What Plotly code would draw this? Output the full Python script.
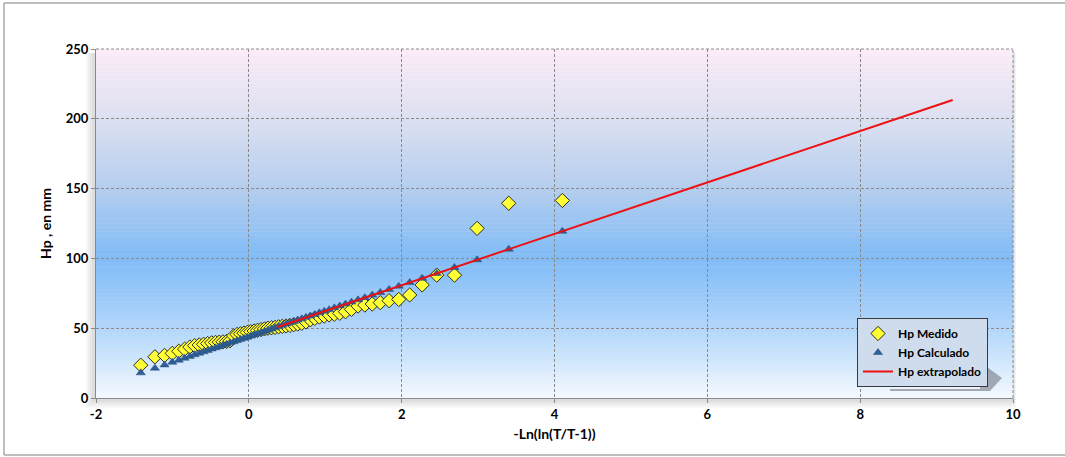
import plotly.graph_objects as go

# Reduced Gumbel variate -Ln(ln(T/T-1)) for each ranked observation
x_obs = [-1.414, -1.229, -1.103, -1.002, -0.917, -0.841, -0.772, -0.709, -0.649, -0.592,
         -0.538, -0.486, -0.436, -0.387, -0.339, -0.291, -0.245, -0.199, -0.154, -0.109,
         -0.064, -0.020, 0.025, 0.070, 0.114, 0.159, 0.205, 0.250, 0.296, 0.343,
         0.390, 0.438, 0.487, 0.537, 0.588, 0.640, 0.693, 0.748, 0.805, 0.863,
         0.923, 0.986, 1.051, 1.119, 1.190, 1.265, 1.344, 1.429, 1.518, 1.615,
         1.720, 1.835, 1.962, 2.105, 2.268, 2.459, 2.691, 2.987, 3.401, 4.103]

hp_medido = [23.5, 29.5, 30.5, 32.0, 33.5, 35.0, 36.5, 37.5, 38.0, 38.5,
             39.0, 39.5, 39.8, 40.0, 40.2, 40.5, 41.0, 44.5, 45.5, 46.0,
             46.5, 47.0, 47.5, 48.0, 48.5, 49.0, 49.5, 50.0, 50.3, 50.6,
             51.0, 51.3, 51.6, 52.0, 52.5, 53.0, 53.5, 54.5, 56.0, 57.0,
             58.0, 58.7, 59.5, 60.0, 60.7, 61.8, 63.5, 65.9, 66.6, 67.3,
             68.3, 69.7, 70.6, 73.8, 81.0, 88.0, 88.0, 121.5, 139.5, 141.5]

hp_calculado = [18.0, 21.4, 23.7, 25.6, 27.1, 28.5, 29.8, 31.0, 32.1, 33.1,
                34.1, 35.1, 36.0, 36.9, 37.8, 38.6, 39.5, 40.3, 41.2, 42.0,
                42.8, 43.6, 44.5, 45.3, 46.1, 46.9, 47.8, 48.6, 49.4, 50.3,
                51.2, 52.1, 53.0, 53.9, 54.8, 55.8, 56.8, 57.8, 58.8, 59.9,
                61.0, 62.1, 63.3, 64.6, 65.9, 67.3, 68.7, 70.3, 71.9, 73.7,
                75.6, 77.8, 80.1, 82.7, 85.7, 89.2, 93.5, 99.0, 106.6, 119.5]

x_ext = [0.3665, 1.4999, 2.2504, 3.1985, 3.9019, 4.6001, 5.2958, 6.2136, 6.9073, 9.2103]
hp_extrapolado = [50.7, 71.6, 85.4, 102.9, 115.8, 128.6, 141.4, 158.3, 171.1, 213.5]

x_ticks = [-2, 0, 2, 4, 6, 8, 10]
y_ticks = [0, 50, 100, 150, 200, 250]

FONT = "Lato"

fig = go.Figure()

fig.add_trace(go.Scatter(
    x=x_obs, y=hp_medido, mode="markers", name="Hp Medido",
    marker=dict(symbol="diamond", size=11, color="#ffff33",
                line=dict(color="#2a2a2a", width=1))))
fig.add_trace(go.Scatter(
    x=x_obs, y=hp_calculado, mode="markers", name="Hp Calculado",
    marker=dict(symbol="triangle-up", size=8, color="#2f5f98",
                line=dict(color="#244a78", width=0.5))))
fig.add_trace(go.Scatter(
    x=x_ext, y=hp_extrapolado, mode="lines", name="Hp extrapolado",
    line=dict(color="#ee1111", width=2)))

W, H = 1065, 457
L, R, T, B = 96, 52, 49, 59
pw, ph = W - L - R, H - T - B


def px_to_paper(px, py):
    return (px - L) / pw, 1 - (py - T) / ph


# gradient background of the plot area, drawn as thin horizontal bands
stops = [(0.0, (252, 236, 248)), (0.2, (220, 224, 241)), (0.4, (180, 206, 238)),
         (0.6, (128, 187, 247)), (0.8, (178, 214, 250)), (1.0, (244, 249, 255))]


def color_at(f):
    for (f0, c0), (f1, c1) in zip(stops[:-1], stops[1:]):
        if f0 <= f <= f1:
            t = (f - f0) / (f1 - f0)
            return "rgb(%d,%d,%d)" % tuple(round(a + (b - a) * t) for a, b in zip(c0, c1))
    return "rgb(%d,%d,%d)" % stops[-1][1]


shapes = []

# soft shadow around the plot area (left and bottom)
for k, a in enumerate([0.05, 0.05, 0.05, 0.06]):
    d = 10 - 2 * k
    sx0, sy0 = px_to_paper(L - d, T + 4)
    sx1, sy1 = px_to_paper(W - R + d * 0.3, H - B + d)
    shapes.append(dict(type="rect", xref="paper", yref="paper", x0=sx0, y0=sy1, x1=sx1, y1=sy0,
                       line=dict(width=0), fillcolor="rgba(90,90,90,%.2f)" % a, layer="below"))

n = 90
for i in range(n):
    top = 1 - i / n
    bot = 1 - (i + 1) / n
    shapes.append(dict(type="rect", xref="paper", yref="paper", x0=0, x1=1,
                       y0=bot - 0.001, y1=top, fillcolor=color_at((i + 0.5) / n),
                       line=dict(width=0), layer="below"))

# outer chart border (left, top, bottom)
bx0, by0 = px_to_paper(4, 3)
bx1, by1 = px_to_paper(1120, 455)
for seg in [(bx0, by1, bx0, by0), (bx0, by0, bx1, by0), (bx0, by1, bx1, by1)]:
    shapes.append(dict(type="line", xref="paper", yref="paper",
                       x0=seg[0], y0=seg[1], x1=seg[2], y1=seg[3],
                       line=dict(color="#a8a8a8", width=1.5), layer="below"))

# legend shadow (perspective wedge at lower right)
pts = [(980, 362), (1002, 378), (990, 391), (890, 391), (890, 389), (980, 389)]
path = "M " + " L ".join("%.5f,%.5f" % px_to_paper(px, py) for px, py in pts) + " Z"
shapes.append(dict(type="path", xref="paper", yref="paper", path=path,
                   line=dict(width=0), fillcolor="rgba(60,60,70,0.40)", layer="above"))

lx, ly = px_to_paper(857, 318)

GRID_DASH = "3px,2px"

fig.update_layout(
    width=W, height=H,
    margin=dict(l=L, r=R, t=T, b=B),
    paper_bgcolor="white",
    plot_bgcolor="rgba(0,0,0,0)",
    font=dict(family=FONT, size=12, color="black"),
    shapes=shapes,
    showlegend=True,
    legend=dict(x=lx, y=ly, xanchor="left", yanchor="top",
                bgcolor="#cfdcee", bordercolor="#3a3a3a", borderwidth=1,
                font=dict(family=FONT, size=12, color="black", weight="bold"),
                itemwidth=30, tracegroupgap=3),
    xaxis=dict(range=[-2, 10], tickvals=x_ticks, ticktext=[str(v) for v in x_ticks],
               showgrid=True, gridcolor="#8a8a8a", griddash=GRID_DASH, gridwidth=1,
               zeroline=False, showline=True, linecolor="#8a8a8a", mirror=False,
               ticks="outside", ticklen=4, tickcolor="#8a8a8a",
               tickfont=dict(family=FONT, size=13, weight="bold"),
               title=dict(text="-Ln(ln(T/T-1))", standoff=8,
                          font=dict(family=FONT, size=14, weight="bold"))),
    yaxis=dict(range=[0, 250], tickvals=y_ticks, ticktext=[str(v) for v in y_ticks],
               showgrid=True, gridcolor="#8a8a8a", griddash=GRID_DASH, gridwidth=1,
               zeroline=False, showline=True, linecolor="#8a8a8a",
               ticks="outside", ticklen=4, tickcolor="#8a8a8a",
               tickfont=dict(family=FONT, size=13, weight="bold"),
               title=dict(text="Hp , en mm", standoff=10,
                          font=dict(family=FONT, size=14, weight="bold"))),
)

# right and top borders of plot area as dashed lines
fig.add_shape(type="line", xref="paper", yref="paper", x0=1, x1=1, y0=0, y1=1,
              line=dict(color="#8a8a8a", width=1, dash=GRID_DASH))
fig.add_shape(type="line", xref="paper", yref="paper", x0=0, x1=1, y0=1, y1=1,
              line=dict(color="#8a8a8a", width=1, dash=GRID_DASH))

fig.write_html("out.html", config={"displayModeBar": False},
               post_script="document.body.style.margin='0';")
